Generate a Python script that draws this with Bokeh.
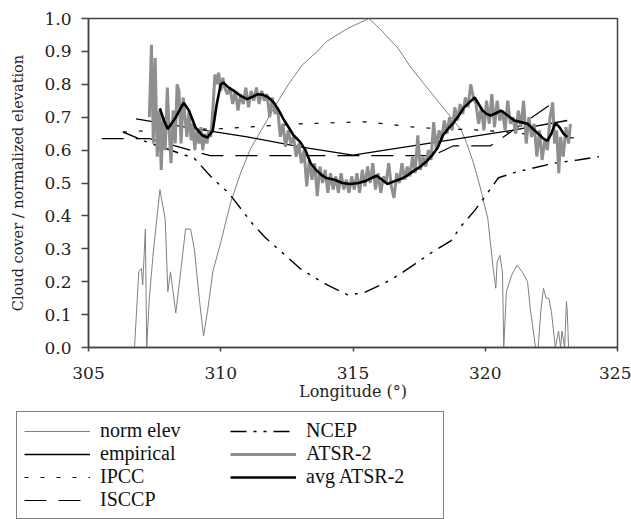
from bokeh.plotting import figure
from bokeh.layouts import column
from bokeh.models import Legend, LegendItem, Range1d, FixedTicker, NumeralTickFormatter
from bokeh.embed import file_html
from bokeh.resources import INLINE

# ---------------- data ----------------
x_ticks = [305, 310, 315, 320, 325]
y_ticks = [0.0, 0.1, 0.2, 0.3, 0.4, 0.5, 0.6, 0.7, 0.8, 0.9, 1.0]

elev_x = [306.74, 306.9, 307.0, 307.05, 307.15, 307.2, 307.3, 307.45, 307.7, 307.9,
          308.0, 308.1, 308.3, 308.5, 308.67, 308.86, 309.0, 309.2, 309.35, 309.5,
          309.7, 310.0, 310.37, 310.75, 311.1, 311.6, 312.1, 312.6, 313.1, 313.65,
          314.0, 314.8, 315.6, 316.0, 316.7, 317.2, 317.7, 318.2, 318.7, 319.1,
          319.3, 319.56, 319.8, 320.1, 320.3, 320.4, 320.45, 320.55, 320.65, 320.7,
          320.8, 321.0, 321.2, 321.4, 321.6, 321.7, 321.9, 322.0, 322.1, 322.2,
          322.3, 322.4, 322.5, 322.65, 322.77, 322.85, 322.9, 323.0, 323.07, 323.1, 323.15]
elev_y = [0.0, 0.23, 0.24, 0.19, 0.36, 0.0, 0.15, 0.29, 0.48, 0.39,
          0.17, 0.23, 0.105, 0.24, 0.36, 0.36, 0.30, 0.14, 0.035, 0.11,
          0.23, 0.32, 0.44, 0.53, 0.60, 0.67, 0.74, 0.805, 0.86, 0.90,
          0.93, 0.97, 1.0, 0.97, 0.91, 0.85, 0.80, 0.75, 0.70, 0.66,
          0.62, 0.56, 0.49, 0.39, 0.24, 0.18, 0.26, 0.28, 0.23, 0.0,
          0.17, 0.22, 0.25, 0.23, 0.20, 0.12, 0.0, 0.0, 0.11, 0.18,
          0.15, 0.15, 0.11, 0.0, 0.05, 0.0, 0.05, 0.0, 0.14, 0.11, 0.0]

emp_x = [306.8, 309.0, 311.0, 313.0, 315.0, 317.0, 319.0, 321.0, 323.1]
emp_y = [0.695, 0.665, 0.64, 0.61, 0.585, 0.61, 0.635, 0.66, 0.69]

ipcc_x = [306.3, 308.0, 310.0, 313.0, 315.5, 317.5, 320.0, 323.6]
ipcc_y = [0.655, 0.662, 0.665, 0.68, 0.686, 0.668, 0.66, 0.635]

isccp_x = [305.5, 307.3, 309.6, 318.0, 318.8, 320.2, 322.5]
isccp_y = [0.635, 0.635, 0.583, 0.583, 0.613, 0.613, 0.74]

ncep_x = [306.3, 307.2, 309.0, 309.7, 310.3, 311.2, 311.7, 312.3, 313.0, 313.5, 314.1,
          314.8, 315.4, 316.2, 316.8, 317.4, 318.0, 318.7, 319.1, 319.6, 320.0,
          320.5, 321.2, 321.9, 322.6, 323.5, 324.3]
ncep_y = [0.655, 0.625, 0.575, 0.513, 0.47, 0.376, 0.333, 0.29, 0.24, 0.215, 0.187,
          0.16, 0.166, 0.196, 0.224, 0.257, 0.29, 0.324, 0.37, 0.416, 0.46,
          0.516, 0.534, 0.547, 0.56, 0.57, 0.58]

atsr_x = [307.30, 307.38, 307.45, 307.52, 307.60, 307.68, 307.75, 307.82, 307.90, 307.98,
          308.05, 308.12, 308.20, 308.28, 308.35, 308.42, 308.50, 308.58, 308.65, 308.72,
          308.80, 308.88, 308.95, 309.02, 309.10, 309.18, 309.25, 309.32, 309.40, 309.48,
          309.55, 309.62, 309.70, 309.78, 309.85, 309.92, 310.00, 310.08, 310.15, 310.25,
          310.35, 310.45, 310.55, 310.65, 310.75, 310.85, 310.95, 311.05, 311.15, 311.25,
          311.35, 311.45, 311.55, 311.65, 311.75, 311.85, 311.95, 312.05, 312.15, 312.25,
          312.35, 312.45, 312.55, 312.65, 312.75, 312.85, 312.95, 313.05, 313.15, 313.25,
          313.35, 313.45, 313.55, 313.65, 313.75, 313.85, 313.95, 314.05, 314.15, 314.25,
          314.35, 314.45, 314.55, 314.65, 314.75, 314.85, 314.95, 315.05, 315.15, 315.25,
          315.35, 315.45, 315.55, 315.65, 315.75, 315.85, 315.95, 316.05, 316.15, 316.25,
          316.35, 316.45, 316.55, 316.65, 316.75, 316.85, 316.95, 317.05, 317.15, 317.25,
          317.35, 317.45, 317.55, 317.65, 317.75, 317.85, 317.95, 318.05, 318.15, 318.25,
          318.35, 318.45, 318.55, 318.65, 318.75, 318.85, 318.95, 319.05, 319.15, 319.25,
          319.35, 319.45, 319.55, 319.65, 319.75, 319.85, 319.95, 320.05, 320.15, 320.25,
          320.35, 320.45, 320.55, 320.65, 320.75, 320.85, 320.95, 321.05, 321.15, 321.25,
          321.35, 321.45, 321.55, 321.65, 321.75, 321.85, 321.95, 322.05, 322.15, 322.25,
          322.35, 322.45, 322.55, 322.62, 322.70, 322.78, 322.85, 322.95, 323.05, 323.15, 323.22]
atsr_y = [0.70, 0.92, 0.62, 0.88, 0.58, 0.72, 0.54, 0.70, 0.60, 0.79,
          0.66, 0.56, 0.72, 0.62, 0.80, 0.78, 0.62, 0.76, 0.70, 0.64,
          0.72, 0.63, 0.68, 0.60, 0.66, 0.62, 0.67, 0.60, 0.65, 0.62,
          0.66, 0.64, 0.72, 0.83, 0.80, 0.835, 0.78, 0.82, 0.79, 0.77,
          0.79, 0.74, 0.78, 0.72, 0.77, 0.74, 0.79, 0.73, 0.78, 0.75,
          0.79, 0.74, 0.78, 0.75, 0.77, 0.70, 0.76, 0.71, 0.73, 0.64,
          0.68, 0.61, 0.66, 0.62, 0.64, 0.58, 0.62, 0.56, 0.60, 0.49,
          0.57, 0.51, 0.56, 0.46, 0.55, 0.50, 0.54, 0.47, 0.53, 0.48,
          0.52, 0.47, 0.53, 0.48, 0.51, 0.47, 0.52, 0.48, 0.53, 0.47,
          0.54, 0.49, 0.55, 0.50, 0.56, 0.48, 0.53, 0.47, 0.52, 0.50,
          0.56, 0.49, 0.455, 0.53, 0.50, 0.56, 0.51, 0.55, 0.52, 0.58,
          0.53, 0.645, 0.54, 0.58, 0.55, 0.60, 0.57, 0.685, 0.60, 0.66,
          0.63, 0.69, 0.65, 0.70, 0.66, 0.73, 0.69, 0.74, 0.71, 0.76,
          0.73, 0.80, 0.76, 0.74, 0.68, 0.73, 0.66, 0.75, 0.68, 0.77,
          0.67, 0.75, 0.69, 0.72, 0.66, 0.75, 0.68, 0.70, 0.65, 0.72,
          0.67, 0.75, 0.62, 0.70, 0.64, 0.68, 0.58, 0.66, 0.57, 0.63,
          0.60, 0.70, 0.745, 0.62, 0.66, 0.53, 0.64, 0.58, 0.67, 0.62, 0.68]

avg_x = [307.7, 307.85, 308.0, 308.3, 308.6, 308.8, 309.05, 309.3, 309.5, 309.7,
         309.85, 310.0, 310.1, 310.3, 310.5, 310.75, 311.0, 311.2, 311.4, 311.6,
         311.8, 312.0, 312.2, 312.4, 312.6, 312.75, 313.0, 313.2, 313.4, 313.6,
         313.8, 314.0, 314.3, 314.6, 314.9, 315.2, 315.5, 315.7, 315.9, 316.1,
         316.3, 316.55, 316.8, 317.0, 317.3, 317.55, 317.8, 318.0, 318.2, 318.4,
         318.6, 318.8, 319.0, 319.2, 319.4, 319.6, 319.75, 319.9, 320.05, 320.2,
         320.4, 320.6, 320.85, 321.1, 321.35, 321.6, 321.8, 322.0, 322.2, 322.35,
         322.5, 322.65, 322.8, 322.96, 323.1]
avg_y = [0.727, 0.69, 0.664, 0.70, 0.744, 0.72, 0.668, 0.645, 0.638, 0.66,
         0.74, 0.80, 0.805, 0.79, 0.78, 0.765, 0.755, 0.762, 0.77, 0.768,
         0.76, 0.745, 0.72, 0.69, 0.665, 0.645, 0.625, 0.60, 0.56, 0.54,
         0.525, 0.515, 0.51, 0.50, 0.497, 0.50, 0.507, 0.515, 0.522, 0.51,
         0.497, 0.505, 0.512, 0.52, 0.537, 0.55, 0.567, 0.585, 0.607, 0.645,
         0.665, 0.683, 0.705, 0.73, 0.745, 0.76, 0.74, 0.72, 0.71, 0.705,
         0.712, 0.72, 0.705, 0.69, 0.685, 0.68, 0.665, 0.65, 0.635, 0.628,
         0.65, 0.683, 0.67, 0.65, 0.64]

labels = ["norm elev", "empirical", "IPCC", "ISCCP", "NCEP", "ATSR-2", "avg ATSR-2"]
series = [(elev_x, elev_y), (emp_x, emp_y), (ipcc_x, ipcc_y), (isccp_x, isccp_y),
          (ncep_x, ncep_y), (atsr_x, atsr_y), (avg_x, avg_y)]
styles = [dict(line_color="#808080", line_width=1),
          dict(line_color="black", line_width=1.3),
          dict(line_color="black", line_width=1.2, line_dash="4 12"),
          dict(line_color="black", line_width=1.2, line_dash="22 12"),
          dict(line_color="black", line_width=1.4, line_dash="16 7 3 7 3 7"),
          dict(line_color="#8f8f8f", line_width=3),
          dict(line_color="black", line_width=2.6)]

FONT = "DejaVu Serif"
LEG_FONT = "Liberation Serif"

# ---------------- main chart ----------------
p = figure(width=631, height=405, output_backend="svg", toolbar_location=None,
           x_range=Range1d(305, 325), y_range=Range1d(0, 1),
           min_border_left=88, min_border_right=14, min_border_top=18,
           min_border_bottom=58)
p.frame_align = False
p.grid.visible = False
p.outline_line_color = "#444444"
p.outline_line_width = 1.5
p.background_fill_color = "white"
p.border_fill_color = "white"

for (xs, ys), st in zip(series, styles):
    p.line(xs, ys, **st)

for ax in (p.xaxis[0], p.yaxis[0]):
    ax.axis_line_color = "#444444"
    ax.axis_line_width = 1.5
    ax.major_tick_line_color = "#444444"
    ax.major_tick_line_width = 1.5
    ax.major_tick_in = 0
    ax.minor_tick_in = 0
    ax.minor_tick_out = 0
    ax.major_label_text_font = FONT
    ax.major_label_text_font_size = "17px"
    ax.major_label_text_color = "#222222"
    ax.axis_label_text_font = FONT
    ax.axis_label_text_font_style = "normal"
    ax.axis_label_text_color = "#222222"

p.xaxis.ticker = FixedTicker(ticks=x_ticks)
p.xaxis.major_tick_out = 4
p.xaxis.major_label_standoff = 15
p.xaxis.axis_label = "Longitude (°)"
p.xaxis.axis_label_text_font_size = "16px"
p.xaxis.axis_label_standoff = 0

p.yaxis.ticker = FixedTicker(ticks=y_ticks)
p.yaxis.formatter = NumeralTickFormatter(format="0.0")
p.yaxis.major_tick_out = 7
p.yaxis.major_label_standoff = 10
p.yaxis.axis_label = "Cloud cover / normalized elevation"
p.yaxis.axis_label_text_font_size = "14.5px"
p.yaxis.axis_label_standoff = 15

# ---------------- legend panel ----------------
q = figure(width=631, height=114, output_backend="svg", toolbar_location=None,
           x_range=Range1d(0, 1), y_range=Range1d(0, 1),
           x_axis_location=None, y_axis_location=None,
           min_border_left=0, min_border_right=0, min_border_top=0, min_border_bottom=0)
q.frame_align = False
q.grid.visible = False
q.outline_line_color = None
q.background_fill_color = "white"
q.border_fill_color = "white"

q_rends = [q.line(xs, ys, **st) for (xs, ys), st in zip(series, styles)]
items = [LegendItem(label=l, renderers=[r]) for l, r in zip(labels, q_rends)]
legend = Legend(items=items, location=(16, 0), orientation="vertical", nrows=4,
                glyph_width=66, glyph_height=20, label_height=20, spacing=0,
                label_standoff=10, label_width=130, padding=7, margin=0,
                border_line_color="black", border_line_width=1.3,
                background_fill_color="white", background_fill_alpha=1.0,
                label_text_font=LEG_FONT, label_text_font_size="20px",
                label_text_color="#111111", label_text_font_style="normal")
q.add_layout(legend)

layout = column(p, q, spacing=0)
open("out.html", "w").write(file_html(layout, INLINE))
